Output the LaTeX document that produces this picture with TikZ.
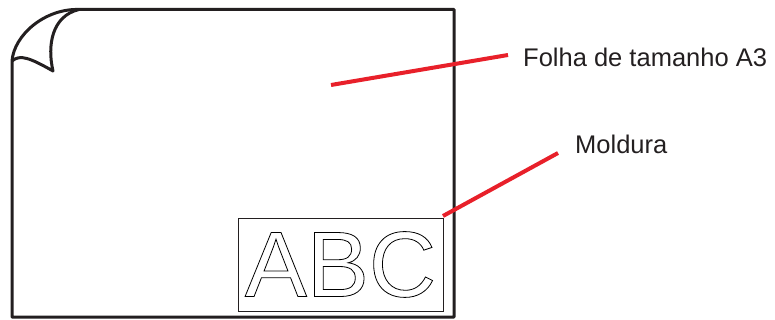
\documentclass[tikz,border=0pt]{standalone}
\usepackage{fontspec}
\setmainfont{Liberation Sans}
\definecolor{inkgray}{HTML}{231F20}
\definecolor{leadred}{HTML}{E8202A}
\newcommand{\outlinetext}[1]{\special{pdf:literal 1 Tr 0.8 w}#1\special{pdf:literal 0 Tr}}
\begin{document}
\begin{tikzpicture}[x=1pt,y=-1pt,
  sheet/.style={line width=3pt,inkgray,line join=round},
  leader/.style={line width=4pt,leadred},
  lbl/.style={anchor=west,inner sep=0pt,text=inkgray,font=\fontsize{25.5}{28}\selectfont}]
\useasboundingbox (0,0) rectangle (775,320);
% sheet with the curled corner
\draw[sheet] (12,61) .. controls (14,35) and (45,8) .. (80,9.5) -- (454,9.5) -- (454,317) -- (12,317) -- cycle;
\draw[sheet] (12,61) .. controls (20,54) and (30,58) .. (53,71) .. controls (47,45) and (52,16) .. (79,9.5);
% frame
\node[draw=inkgray,line width=0.9pt,minimum width=205pt,minimum height=93pt,inner sep=0pt] (frame) at (340.5,264.5) {};
% labels
\node[lbl] (sheetlbl) at (523,57) {Folha de tamanho A3};
\node[lbl] (framelbl) at (575,144) {Moldura};
\coordinate (sheetpt) at (331,85);
\coordinate (sheetend) at (508,55);
\coordinate (framept) at (443,216);
\coordinate (frameend) at (558,153);
\draw[leader] (sheetpt) -- (sheetend);
\draw[leader] (framept) -- (frameend);
% outlined letters
\node[inner sep=0pt,font=\fontsize{93}{93}\selectfont] (abc) at (frame.center) {\outlinetext{ABC}};
\end{tikzpicture}
\end{document}
